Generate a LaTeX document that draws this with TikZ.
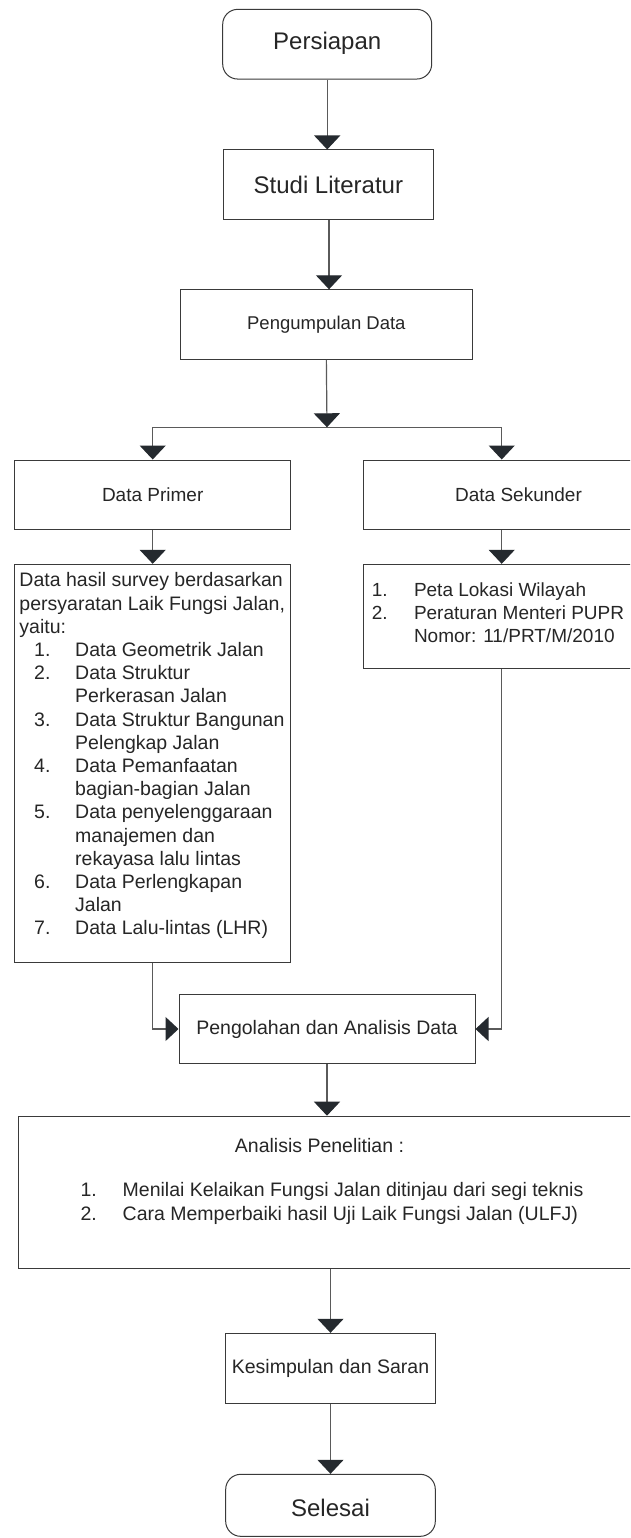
\documentclass[tikz,border=0pt]{standalone}
\usepackage{fontspec}
\setmainfont{Liberation Sans}
\usetikzlibrary{arrows.meta}
\definecolor{boxc}{HTML}{3A3A3A}
\definecolor{linec}{HTML}{5A5A5A}
\definecolor{tipc}{HTML}{252A2F}
\definecolor{txtc}{HTML}{262626}
\newcommand{\litem}[2]{\hspace*{14.7pt}\makebox[41pt][l]{#1}#2}
\newcommand{\lcont}[1]{\hspace*{55.7pt}#1}
\begin{document}
\begin{tikzpicture}[x=1pt,y=-1pt,
  box/.style={draw=boxc, line width=1pt, rectangle, inner sep=0pt, text=txtc},
  term/.style={box, rounded corners=15pt},
  txt/.style={inner sep=0pt, text=txtc},
  conn/.style={draw=linec, line width=1.2pt},
  arr/.style={conn, -{Triangle[width=26pt,length=14pt,fill=tipc,color=tipc]}},
  harr/.style={conn, -{Triangle[width=24pt,length=13pt,fill=tipc,color=tipc]}},
  big/.style={font=\fontsize{24}{28}\selectfont},
  mid/.style={font=\fontsize{19}{23}\selectfont}
]
\useasboundingbox (0,0) rectangle (630,1538);
\clip (0,0) rectangle (630,1538);
\fill[white] (0,0) rectangle (630,1538);

% terminals and boxes
\node[term, minimum width=209pt, minimum height=69.7pt] (pers) at (327.2,44.2) {};
\node[txt, big] (perst) at (327.2,43.3) {Persiapan};
\node[box, big, minimum width=209.3pt, minimum height=70pt] (studi) at (328.35,185) {Studi Literatur};
\node[box, font=\fontsize{18.5}{22}\selectfont, minimum width=291.3pt, minimum height=70pt] (peng) at (326.35,324.3) {Pengumpulan Data};
\node[box, mid, minimum width=276pt, minimum height=69.3pt] (prim) at (152.7,494.65) {Data Primer};
\node[box, mid, minimum width=310.4pt, minimum height=69.3pt] (sek) at (518.5,494.65) {Data Sekunder};

% left list box
\node[box, minimum width=276pt, minimum height=398pt] (lbox) at (152.7,763.3) {};
\node[txt, anchor=north west, align=left, font=\fontsize{19.5}{23.2}\selectfont] (ltxt) at (19.3,572.5) {%
Data hasil survey berdasarkan\\
persyaratan Laik Fungsi Jalan,\\
yaitu:\\
\litem{1.}{Data Geometrik Jalan}\\
\litem{2.}{Data Struktur}\\
\lcont{Perkerasan Jalan}\\
\litem{3.}{Data Struktur Bangunan}\\
\lcont{Pelengkap Jalan}\\
\litem{4.}{Data Pemanfaatan}\\
\lcont{bagian-bagian Jalan}\\
\litem{5.}{Data penyelenggaraan}\\
\lcont{manajemen dan}\\
\lcont{rekayasa lalu lintas}\\
\litem{6.}{Data Perlengkapan}\\
\lcont{Jalan}\\
\litem{7.}{Data Lalu-lintas (LHR)}};

% right list box
\node[box, minimum width=310.4pt, minimum height=104pt] (rbox) at (518.5,616.3) {};
\node[txt, anchor=north west, align=left, font=\fontsize{19}{22.8}\selectfont] (rtxt) at (371.6,582.5) {%
\makebox[42.2pt][l]{1.}Peta Lokasi Wilayah\\
\makebox[42.2pt][l]{2.}Peraturan Menteri PUPR\\
\hspace*{42.2pt}Nomor: 11/PRT/M/2010};

\node[box, font=\fontsize{19.5}{23}\selectfont, minimum width=296pt, minimum height=69.4pt] (olah) at (327,1029) {Pengolahan dan Analisis Data};

% analysis box
\node[box, anchor=north west, minimum width=700pt, minimum height=152.6pt] (anl) at (18.3,1115.7) {};
\node[txt, font=\fontsize{19.5}{23}\selectfont] (anlt) at (319.5,1146) {Analisis Penelitian :};
\node[txt, anchor=north west, align=left, font=\fontsize{19.5}{23.3}\selectfont] (anli) at (80.4,1182.5) {%
\makebox[42.1pt][l]{1.}Menilai Kelaikan Fungsi Jalan ditinjau dari segi teknis\\
\makebox[42.1pt][l]{2.}Cara Memperbaiki hasil Uji Laik Fungsi Jalan (ULFJ)};

\node[box, font=\fontsize{19.5}{23}\selectfont, minimum width=209.6pt, minimum height=70pt] (kes) at (330.5,1368.3) {Kesimpulan dan Saran};
\node[term, minimum width=209.6pt, minimum height=62pt] (sel) at (330.5,1505.3) {};
\node[txt, big] (selt) at (330.5,1508) {Selesai};

% split coordinates
\coordinate (split) at (327,427.3);
\coordinate (splitL) at (152.7,427.3);
\coordinate (splitR) at (501.7,427.3);

% connectors
\draw[arr] (pers.south) -- (pers.south |- studi.north);
\draw[arr] (329,220) -- (329,289.3);
\draw[arr] (peng.south) -- (split);
\draw[conn] (splitL) -- (splitR);
\draw[arr] (splitL) -- (splitL |- prim.north);
\draw[arr] (splitR) -- (splitR |- sek.north);
\draw[arr] (prim.south) -- (lbox.north);
\draw[arr] (splitR |- sek.south) -- (splitR |- rbox.north);
\draw[harr] (lbox.south) |- (olah.west);
\draw[harr] (splitR |- rbox.south) |- (olah.east);
\draw[arr] (olah.south) -- (olah.south |- anl.north);
\draw[arr] (kes.north |- anl.south) -- (kes.north);
\draw[arr] (kes.south) -- (sel.north);
\end{tikzpicture}
\end{document}
